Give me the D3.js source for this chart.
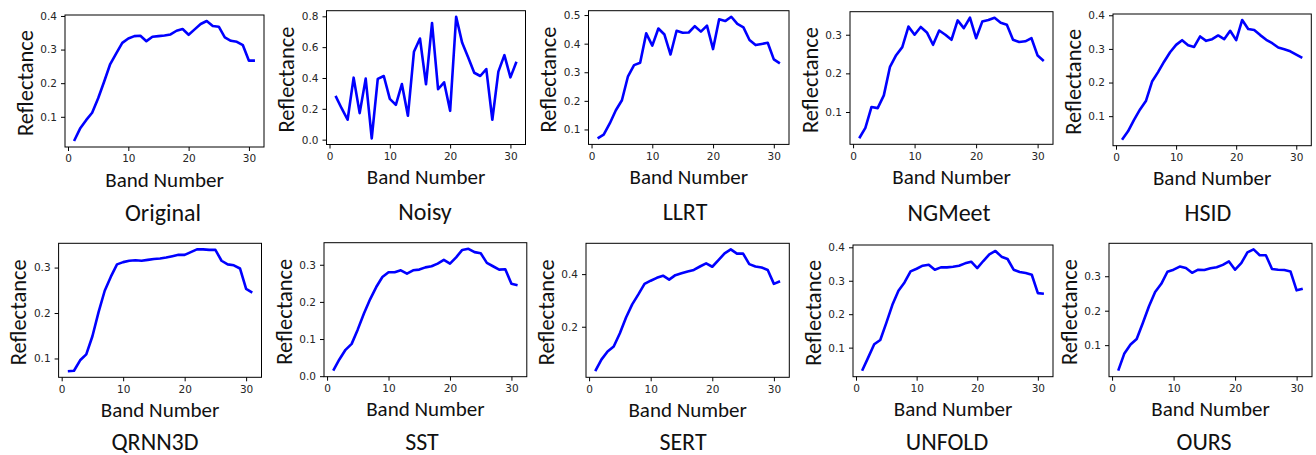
<!DOCTYPE html>
<html>
<head>
<meta charset="utf-8">
<script src="https://cdn.jsdelivr.net/npm/d3@7"></script>
<style>
  html, body { margin: 0; padding: 0; background: #fff; }
  svg { display: block; }
  .tick text { font-family: "DejaVu Sans", sans-serif; font-size: 10.5px; fill: #262626; }
  .lbl { font-family: Carlito, Calibri, Lato, sans-serif; fill: #111; }
</style>
</head>
<body>
<svg id="chart" width="1316" height="455"></svg>
<script>
// ---------------- data ----------------
const bands = [1,2,3,4,5,6,7,8,9,10,11,12,13,14,15,16,17,18,19,20,21,22,23,24,25,26,27,28,29,30,31];

const original = [0.028,0.065,0.090,0.112,0.155,0.205,0.257,0.289,0.320,0.333,0.340,0.341,0.325,0.338,0.340,0.342,0.345,0.356,0.361,0.344,0.360,0.376,0.385,0.370,0.368,0.336,0.326,0.323,0.313,0.267,0.267];
const noisy    = [0.284,0.204,0.129,0.402,0.172,0.396,0.008,0.394,0.413,0.265,0.226,0.361,0.155,0.570,0.656,0.359,0.757,0.327,0.372,0.187,0.797,0.628,0.533,0.434,0.413,0.458,0.129,0.441,0.548,0.404,0.505];
const llrt     = [0.069,0.082,0.121,0.167,0.202,0.286,0.325,0.333,0.436,0.393,0.453,0.432,0.362,0.445,0.438,0.439,0.461,0.442,0.463,0.381,0.485,0.479,0.494,0.469,0.457,0.413,0.395,0.399,0.403,0.345,0.331];
const ngmeet   = [0.032,0.059,0.113,0.110,0.143,0.217,0.247,0.268,0.321,0.300,0.320,0.306,0.274,0.311,0.300,0.287,0.337,0.317,0.344,0.291,0.334,0.338,0.344,0.331,0.326,0.287,0.281,0.283,0.291,0.246,0.232];
const hsid     = [0.030,0.055,0.089,0.120,0.146,0.203,0.231,0.262,0.290,0.312,0.326,0.311,0.306,0.337,0.324,0.329,0.340,0.329,0.354,0.326,0.386,0.359,0.356,0.341,0.327,0.317,0.304,0.299,0.293,0.283,0.273];
const qrnn3d   = [0.072,0.073,0.096,0.109,0.149,0.202,0.249,0.280,0.307,0.312,0.315,0.316,0.315,0.317,0.319,0.320,0.322,0.325,0.328,0.328,0.334,0.340,0.340,0.339,0.339,0.315,0.307,0.305,0.298,0.253,0.245];
const sst      = [0.015,0.045,0.071,0.087,0.126,0.169,0.207,0.240,0.267,0.280,0.280,0.285,0.276,0.285,0.287,0.293,0.296,0.303,0.313,0.303,0.320,0.340,0.343,0.334,0.331,0.305,0.296,0.287,0.288,0.249,0.245];
const sert     = [0.031,0.075,0.106,0.125,0.175,0.235,0.285,0.323,0.363,0.375,0.386,0.394,0.379,0.396,0.403,0.410,0.416,0.429,0.441,0.428,0.453,0.479,0.494,0.478,0.478,0.438,0.429,0.425,0.416,0.363,0.373];
const unfold   = [0.031,0.070,0.110,0.123,0.174,0.228,0.270,0.295,0.328,0.336,0.345,0.348,0.333,0.340,0.340,0.342,0.345,0.352,0.357,0.338,0.359,0.379,0.389,0.372,0.365,0.333,0.326,0.323,0.318,0.263,0.261];
const ours     = [0.026,0.076,0.102,0.118,0.164,0.213,0.254,0.278,0.313,0.319,0.328,0.324,0.310,0.319,0.318,0.323,0.326,0.333,0.343,0.319,0.338,0.369,0.378,0.361,0.361,0.321,0.319,0.318,0.314,0.259,0.264];

const titles = ["Original","Noisy","LLRT","NGMeet","HSID","QRNN3D","SST","SERT","UNFOLD","OURS"];
const seriesList = [original, noisy, llrt, ngmeet, hsid, qrnn3d, sst, sert, unfold, ours];

const xTicks = [0,10,20,30];
const yTicksList = [
  [0.1,0.2,0.3,0.4],
  [0.0,0.2,0.4,0.6,0.8],
  [0.1,0.2,0.3,0.4,0.5],
  [0.1,0.2,0.3],
  [0.1,0.2,0.3,0.4],
  [0.1,0.2,0.3],
  [0.0,0.1,0.2,0.3],
  [0.2,0.4],
  [0.1,0.2,0.3,0.4],
  [0.1,0.2,0.3]
];
const xLabel = "Band Number";
const yLabel = "Reflectance";

// ---------------- layout (plot-area boxes, title anchors) ----------------
const boxes = [
  {l: 65,    t: 15,    r: 264,    b: 147,   tx: 163,  ty: 221},
  {l: 326.5, t: 10.7,  r: 525.5,  b: 144.5, tx: 425,  ty: 220},
  {l: 588.5, t: 10.7,  r: 789,    b: 144.4, tx: 685,  ty: 220},
  {l: 850,   t: 11.7,  r: 1053,   b: 144.3, tx: 949,  ty: 221},
  {l: 1113,  t: 14,    r: 1311.3, b: 145.7, tx: 1208, ty: 221},
  {l: 58.6,  t: 243.3, r: 261.5,  b: 377.3, tx: 155,  ty: 449.5},
  {l: 324,   t: 242.7, r: 526.8,  b: 376.7, tx: 422,  ty: 449.5},
  {l: 586,   t: 243.3, r: 789.3,  b: 377.3, tx: 683,  ty: 449.5},
  {l: 853,   t: 245,   r: 1053,   b: 376.7, tx: 947,  ty: 449.5},
  {l: 1109,  t: 243.3, r: 1312,   b: 376.7, tx: 1204, ty: 449.5}
];

const svg = d3.select("#chart");

function padded(ext) {
  const m = (ext[1] - ext[0]) * 0.05;
  return [ext[0] - m, ext[1] + m];
}

seriesList.forEach((vals, i) => {
  const bx = boxes[i];
  const w = bx.r - bx.l, h = bx.b - bx.t;
  const g = svg.append("g").attr("transform", `translate(${bx.l},${bx.t})`);

  const x = d3.scaleLinear().domain(padded(d3.extent(bands))).range([0, w]);
  const y = d3.scaleLinear().domain(padded(d3.extent(vals))).range([h, 0]);

  // frame
  g.append("rect").attr("x", 0).attr("y", 0).attr("width", w).attr("height", h)
    .attr("fill", "none").attr("stroke", "#000").attr("stroke-width", 1);

  // axes
  const xa = g.append("g").attr("transform", `translate(0,${h})`)
    .call(d3.axisBottom(x).tickValues(xTicks).tickFormat(d3.format("d")).tickSize(4).tickPadding(4));
  const ya = g.append("g")
    .call(d3.axisLeft(y).tickValues(yTicksList[i]).tickFormat(d3.format(".1f")).tickSize(4).tickPadding(4));
  [xa, ya].forEach(a => {
    a.select(".domain").remove();
    a.selectAll(".tick line").attr("stroke", "#000").attr("stroke-width", 1);
  });

  // line
  const line = d3.line().x((d, k) => x(bands[k])).y(d => y(d));
  g.append("path").datum(vals).attr("d", line)
    .attr("fill", "none").attr("stroke", "#0000ff").attr("stroke-width", 2.6)
    .attr("stroke-linejoin", "round").attr("stroke-linecap", "butt");

  // axis labels
  g.append("text").attr("class", "lbl").attr("x", w / 2).attr("y", h + 39.5)
    .attr("text-anchor", "middle").attr("font-size", 21).text(xLabel);
  g.append("text").attr("class", "lbl")
    .attr("transform", `translate(-32.5,${h / 2 + 2}) rotate(-90)`)
    .attr("text-anchor", "middle").attr("font-size", 22.5).text(yLabel);

  // title
  svg.append("text").attr("class", "lbl").attr("x", bx.tx).attr("y", bx.ty)
    .attr("text-anchor", "middle").attr("font-size", 24).text(titles[i]);
});
</script>
</body>
</html>
